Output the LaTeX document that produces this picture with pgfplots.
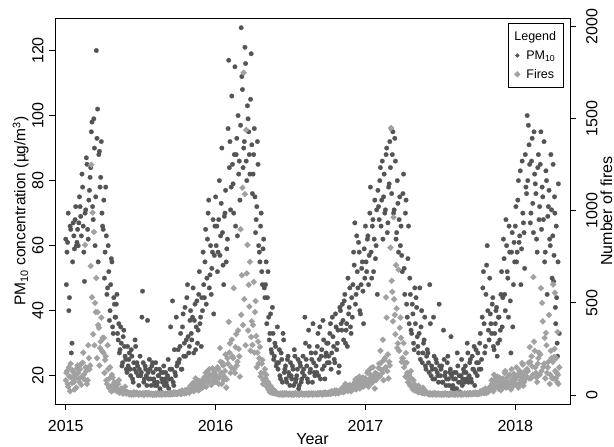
\documentclass[border=0pt]{standalone}
\usepackage{pgfplots}
\pgfplotsset{compat=1.18}
\usepackage{fontspec}
\setmainfont{Liberation Sans}
\definecolor{pmcol}{gray}{0.33}
\definecolor{firecol}{gray}{0.63}
\begin{document}
\begin{tikzpicture}
\useasboundingbox (-55bp,-43bp) rectangle (559bp,404bp);
\pgfplotsset{
 common/.style={
  at={(0,0)}, anchor=south west, scale only axis, width=515bp, height=386bp,
  xmin=-0.86, xmax=40.38,
  tick align=outside, major tick length=6bp,
  every tick/.style={black, line width=0.8bp},
  axis line style={line width=0.8bp, black},
  tick label style={font=\fontsize{16bp}{19bp}\selectfont},
  label style={font=\fontsize{16bp}{19bp}\selectfont},
  /pgf/number format/assume math mode=true,
  /pgf/number format/1000 sep={},
 }
}
\begin{axis}[common,
 ymin=11.3, ymax=130, ytick={20,40,...,120},
 xtick={0,12,24,36}, xticklabels={2015,2016,2017,2018},
 xtick pos=left, ytick pos=left,
 xticklabel style={anchor=north, inner sep=0pt, yshift=-10bp},
 yticklabel style={rotate=90, anchor=base, inner sep=0pt, yshift=5.7bp},
 xlabel={Year}, xlabel style={at={(axis description cs:0.5,-0.1062)}, anchor=base},
 ylabel={PM\textsubscript{10} concentration (µg/m\textsuperscript{3})},
 ylabel style={at={(axis description cs:-0.0573,0.5)}, anchor=base, font=\fontsize{15.5bp}{19bp}\selectfont},
]
\addplot[only marks, color=pmcol, mark=*, mark size=2.3bp, mark options={draw=pmcol, fill=pmcol, line width=0.2bp}] coordinates {
(0.05,48)(0.15,61)(0.25,40)(0.35,66)(0.45,27)(0.55,55)(0.65,63)(0.75,68)(0.85,60)(0.95,65)
(1.05,67)(1.15,72)(1.25,63)(1.35,78)(1.45,58)(1.55,70)(1.65,87)(1.75,65)(1.85,74)(1.95,81)
(2.05,95)(2.15,72)(2.25,99)(2.35,60)(2.45,120)(2.55,102)(2.65,88)(2.75,78)(2.85,92)(2.95,66)
(3.05,74)(3.15,58)(3.25,63)(3.35,47)(3.45,52)(3.55,40)(3.65,56)(3.75,35)(3.85,44)(3.95,38)
(4.05,42)(4.15,33)(4.25,36)(4.35,28)(4.45,30)(4.55,24)(4.65,34)(4.75,26)(4.85,22)(4.95,29)
(5.05,25)(5.15,22)(5.25,28)(5.35,19)(5.45,24)(5.55,31)(5.65,21)(5.75,23)(5.85,17)(5.95,26)
(6.05,21)(6.15,46)(6.25,18)(6.35,23)(6.45,20)(6.55,37)(6.65,19)(6.75,22)(6.85,17)(6.95,24)
(7.05,19)(7.15,17)(7.25,22)(7.35,18)(7.45,20)(7.55,16)(7.65,21)(7.75,18)(7.85,23)(7.95,19)
(8.05,18)(8.15,20)(8.25,16)(8.35,22)(8.45,19)(8.55,43)(8.65,17)(8.75,21)(8.85,38)(8.95,24)
(9.05,24)(9.15,29)(9.25,22)(9.35,35)(9.45,26)(9.55,41)(9.65,31)(9.75,48)(9.85,27)(9.95,37)
(10.05,33)(10.15,38)(10.25,27)(10.35,42)(10.45,35)(10.55,30)(10.65,45)(10.75,36)(10.85,29)(10.95,40)
(11.05,48)(11.15,55)(11.25,42)(11.35,62)(11.45,74)(11.55,51)(11.65,45)(11.75,58)(11.85,39)(11.95,66)
(12.05,60)(12.15,52)(12.25,68)(12.35,57)(12.45,73)(12.55,64)(12.65,48)(12.75,70)(12.85,55)(12.95,62)
(13.05,117)(13.15,92)(13.25,78)(13.35,85)(13.45,70)(13.55,115)(13.65,88)(13.75,63)(13.85,82)(13.95,74)
(14.05,127)(14.15,108)(14.25,90)(14.35,121)(14.45,86)(14.55,103)(14.65,95)(14.75,82)(14.85,119)(14.95,76)
(15.05,88)(15.15,75)(15.25,68)(15.35,92)(15.45,60)(15.55,55)(15.65,70)(15.75,48)(15.85,62)(15.95,44)
(16.05,55)(16.15,44)(16.25,38)(16.35,33)(16.45,28)(16.55,41)(16.65,25)(16.75,30)(16.85,23)(16.95,35)
(17.05,24)(17.15,20)(17.25,27)(17.35,18)(17.45,31)(17.55,22)(17.65,19)(17.75,25)(17.85,21)(17.95,17)
(18.05,20)(18.15,23)(18.25,17)(18.35,26)(18.45,19)(18.55,22)(18.65,16)(18.75,24)(18.85,18)(18.95,21)
(19.05,22)(19.15,38)(19.25,25)(19.35,19)(19.45,34)(19.55,21)(19.65,27)(19.75,18)(19.85,24)(19.95,20)
(20.05,23)(20.15,29)(20.25,20)(20.35,35)(20.45,26)(20.55,22)(20.65,31)(20.75,19)(20.85,27)(20.95,24)
(21.05,26)(21.15,33)(21.25,22)(21.35,38)(21.45,29)(21.55,24)(21.65,35)(21.75,30)(21.85,21)(21.95,41)
(22.05,36)(22.15,42)(22.25,31)(22.35,45)(22.45,34)(22.55,29)(22.65,39)(22.75,47)(22.85,33)(22.95,38)
(23.05,58)(23.15,67)(23.25,45)(23.35,52)(23.45,61)(23.55,40)(23.65,48)(23.75,55)(23.85,36)(23.95,50)
(24.05,55)(24.15,62)(24.25,48)(24.35,70)(24.45,58)(24.55,66)(24.65,52)(24.75,74)(24.85,60)(24.95,45)
(25.05,72)(25.15,80)(25.25,66)(25.35,86)(25.45,75)(25.55,70)(25.65,88)(25.75,64)(25.85,78)(25.95,92)
(26.05,96)(26.15,88)(26.25,70)(26.35,93)(26.45,62)(26.55,80)(26.65,58)(26.75,75)(26.85,66)(26.95,52)
(27.05,82)(27.15,45)(27.25,74)(27.35,38)(27.45,66)(27.55,50)(27.65,34)(27.75,42)(27.85,30)(27.95,47)
(28.05,44)(28.15,32)(28.25,27)(28.35,47)(28.45,35)(28.55,24)(28.65,30)(28.75,38)(28.85,22)(28.95,28)
(29.05,24)(29.15,48)(29.25,20)(29.35,22)(29.45,38)(29.55,19)(29.65,25)(29.75,21)(29.85,18)(29.95,23)
(30.05,22)(30.15,18)(30.25,34)(30.35,20)(30.45,17)(30.55,24)(30.65,19)(30.75,21)(30.85,32)(30.95,16)
(31.05,19)(31.15,16)(31.25,21)(31.35,27)(31.45,18)(31.55,15)(31.65,20)(31.75,17)(31.85,22)(31.95,18)
(32.05,21)(32.15,30)(32.25,18)(32.35,24)(32.45,19)(32.55,26)(32.65,22)(32.75,17)(32.85,28)(32.95,20)
(33.05,24)(33.15,30)(33.25,22)(33.35,38)(33.45,52)(33.55,27)(33.65,45)(33.75,60)(33.85,34)(33.95,50)
(34.05,36)(34.15,42)(34.25,29)(34.35,33)(34.45,40)(34.55,26)(34.65,38)(34.75,31)(34.85,45)(34.95,35)
(35.05,62)(35.15,45)(35.25,68)(35.35,52)(35.45,38)(35.55,58)(35.65,27)(35.75,64)(35.85,48)(35.95,55)
(36.05,72)(36.15,58)(36.25,80)(36.35,63)(36.45,48)(36.55,86)(36.65,67)(36.75,53)(36.85,78)(36.95,100)
(37.05,97)(37.15,85)(37.25,70)(37.35,93)(37.45,64)(37.55,82)(37.65,76)(37.75,58)(37.85,88)(37.95,72)
(38.05,95)(38.15,78)(38.25,68)(38.35,55)(38.45,83)(38.55,45)(38.65,72)(38.75,62)(38.85,88)(38.95,50)
(39.03,85)(39.10,57)(39.17,70)(39.24,36)(39.31,44)(39.38,26)(39.45,79)(39.52,33)
(0.00,62)(0.10,58)(0.20,70)(0.30,44)(0.40,65)(0.50,30)(0.60,67)(0.70,59)(0.80,72)(0.90,61)
(1.00,60)(1.10,75)(1.20,69)(1.30,82)(1.40,66)(1.50,49)(1.60,71)(1.70,85)(1.80,62)(1.90,77)
(2.00,84)(2.10,98)(2.20,68)(2.30,90)(2.40,75)(2.50,93)(2.60,55)(2.70,89)(2.80,81)(2.90,70)
(3.00,65)(3.10,50)(3.20,78)(3.30,45)(3.40,60)(3.50,37)(3.60,48)(3.70,55)(3.80,33)(3.90,42)
(4.00,38)(4.10,45)(4.20,31)(4.30,27)(4.40,35)(4.50,23)(4.60,32)(4.70,29)(4.80,25)(4.90,21)
(5.00,23)(5.10,27)(5.20,20)(5.30,26)(5.40,18)(5.50,22)(5.60,29)(5.70,24)(5.80,20)(5.90,22)
(6.00,20)(6.10,38)(6.20,24)(6.30,19)(6.40,22)(6.50,17)(6.60,21)(6.70,25)(6.80,19)(6.90,23)
(7.00,21)(7.10,18)(7.20,24)(7.30,17)(7.40,20)(7.50,22)(7.60,15)(7.70,19)(7.80,21)(7.90,17)
(8.00,21)(8.10,17)(8.20,25)(8.30,19)(8.40,35)(8.50,22)(8.60,18)(8.70,28)(8.80,20)(8.90,23)
(9.00,28)(9.10,25)(9.20,33)(9.30,22)(9.40,39)(9.50,30)(9.60,26)(9.70,44)(9.80,32)(9.90,29)
(10.00,40)(10.10,31)(10.20,47)(10.30,37)(10.40,28)(10.50,43)(10.60,34)(10.70,52)(10.80,38)(10.90,44)
(11.00,58)(11.10,44)(11.20,65)(11.30,50)(11.40,70)(11.50,47)(11.60,60)(11.70,53)(11.80,68)(11.90,57)
(12.00,75)(12.10,66)(12.20,58)(12.30,80)(12.40,63)(12.50,90)(12.60,54)(12.70,69)(12.80,77)(12.90,59)
(13.00,96)(13.10,84)(13.20,71)(13.30,106)(13.40,79)(13.50,88)(13.60,66)(13.70,93)(13.80,100)(13.90,86)
(14.00,97)(14.10,112)(14.20,84)(14.30,92)(14.40,116)(14.50,80)(14.60,99)(14.70,88)(14.80,105)(14.90,91)
(15.00,82)(15.10,96)(15.20,64)(15.30,72)(15.40,85)(15.50,58)(15.60,66)(15.70,52)(15.80,59)(15.90,47)
(16.00,48)(16.10,36)(16.20,52)(16.30,31)(16.40,39)(16.50,27)(16.60,33)(16.70,26)(16.80,29)(16.90,24)
(17.00,22)(17.10,28)(17.20,19)(17.30,25)(17.40,33)(17.50,21)(17.60,23)(17.70,18)(17.80,26)(17.90,20)
(18.00,24)(18.10,19)(18.20,22)(18.30,28)(18.40,18)(18.50,20)(18.60,25)(18.70,17)(18.80,23)(18.90,19)
(19.00,26)(19.10,20)(19.20,30)(19.30,23)(19.40,18)(19.50,29)(19.60,22)(19.70,25)(19.80,36)(19.90,21)
(20.00,27)(20.10,21)(20.20,33)(20.30,25)(20.40,19)(20.50,28)(20.60,37)(20.70,23)(20.80,26)(20.90,30)
(21.00,30)(21.10,24)(21.20,36)(21.30,27)(21.40,32)(21.50,25)(21.60,39)(21.70,28)(21.80,34)(21.90,23)
(22.00,40)(22.10,34)(22.20,37)(22.30,43)(22.40,30)(22.50,36)(22.60,50)(22.70,41)(22.80,35)(22.90,44)
(23.00,48)(23.10,54)(23.20,42)(23.30,63)(23.40,47)(23.50,58)(23.60,39)(23.70,53)(23.80,46)(23.90,59)
(24.00,66)(24.10,52)(24.20,63)(24.30,57)(24.40,78)(24.50,50)(24.60,68)(24.70,62)(24.80,56)(24.90,71)
(25.00,77)(25.10,68)(25.20,84)(25.30,74)(25.40,62)(25.50,82)(25.60,71)(25.70,90)(25.80,67)(25.90,79)
(26.00,84)(26.10,76)(26.20,95)(26.30,71)(26.40,86)(26.50,64)(26.60,73)(26.70,68)(26.80,60)(26.90,57)
(27.00,76)(27.10,53)(27.20,70)(27.30,42)(27.40,56)(27.50,36)(27.60,45)(27.70,33)(27.80,39)(27.90,28)
(28.00,36)(28.10,41)(28.20,29)(28.30,33)(28.40,25)(28.50,40)(28.60,27)(28.70,31)(28.80,23)(28.90,26)
(29.00,27)(29.10,21)(29.20,36)(29.30,23)(29.40,19)(29.50,26)(29.60,22)(29.70,24)(29.80,20)(29.90,42)
(30.00,20)(30.10,23)(30.20,18)(30.30,25)(30.40,21)(30.50,19)(30.60,26)(30.70,17)(30.80,22)(30.90,20)
(31.00,17)(31.10,21)(31.20,19)(31.30,16)(31.40,23)(31.50,20)(31.60,18)(31.70,25)(31.80,19)(31.90,21)
(32.00,23)(32.10,19)(32.20,27)(32.30,20)(32.40,25)(32.50,18)(32.60,22)(32.70,29)(32.80,21)(32.90,24)
(33.00,27)(33.10,22)(33.20,33)(33.30,25)(33.40,47)(33.50,36)(33.60,29)(33.70,54)(33.80,40)(33.90,31)
(34.00,39)(34.10,33)(34.20,44)(34.30,28)(34.40,36)(34.50,41)(34.60,30)(34.70,38)(34.80,34)(34.90,52)
(35.00,44)(35.10,56)(35.20,40)(35.30,60)(35.40,50)(35.50,66)(35.60,43)(35.70,58)(35.80,35)(35.90,61)
(36.00,66)(36.10,55)(36.20,74)(36.30,61)(36.40,83)(36.50,59)(36.60,70)(36.70,64)(36.80,88)(36.90,76)
(37.00,80)(37.10,91)(37.20,67)(37.30,86)(37.40,73)(37.50,95)(37.60,79)(37.70,62)(37.80,84)(37.90,68)
(38.00,85)(38.10,65)(38.20,75)(38.30,92)(38.40,58)(38.50,80)(38.60,69)(38.70,77)(38.80,60)(38.90,71)
(39.00,63)(39.07,49)(39.14,75)(39.21,41)(39.28,66)(39.35,30)(39.42,55)
};
\end{axis}
\begin{axis}[common,
 ymin=-49, ymax=2047, ytick={0,500,...,2000},
 axis x line=none, axis y line*=right,
 yticklabel style={rotate=90, anchor=north, inner sep=0pt, yshift=-10bp},
 ylabel={Number of fires},
 ylabel style={at={(axis description cs:1.0816,0.5)}, anchor=base},
 legend style={at={(axis description cs:0.9883,0.987)}, anchor=north east, draw=black, line width=0.8bp,
   font=\fontsize{12.5bp}{14bp}\selectfont, inner xsep=5.5bp, inner ysep=6bp, row sep=4.5bp},
 legend cell align=left,
 legend image code/.code={\path (-1.7bp,0bp) (6.7bp,0bp); \draw[#1] plot coordinates {(0bp,0bp)};},
]
\addlegendimage{empty legend}\addlegendentry{\hspace*{-12bp}Legend}
\addlegendimage{only marks, color=pmcol, mark=*, mark size=1.7bp, mark options={draw=pmcol, fill=pmcol}}\addlegendentry{PM\textsubscript{10}}
\addplot[only marks, color=firecol, mark=square*, mark size=2.1bp, mark options={rotate=45, draw=firecol, fill=firecol, line width=0.3bp}] coordinates {
(0.05,120)(0.15,60)(0.25,150)(0.35,20)(0.45,95)(0.55,135)(0.65,70)(0.75,110)(0.85,40)(0.95,160)
(1.05,90)(1.15,140)(1.25,55)(1.35,175)(1.45,110)(1.55,815)(1.65,130)(1.75,80)(1.85,200)(1.95,160)
(2.05,1250)(2.15,990)(2.25,885)(2.35,500)(2.45,635)(2.55,450)(2.65,365)(2.75,255)(2.85,420)(2.95,310)
(3.05,310)(3.15,190)(3.25,80)(3.35,270)(3.45,40)(3.55,150)(3.65,20)(3.75,95)(3.85,60)(3.95,30)
(4.05,50)(4.15,25)(4.25,80)(4.35,15)(4.45,35)(4.55,10)(4.65,20)(4.75,45)(4.85,8)(4.95,15)
(5.05,5)(5.15,12)(5.25,3)(5.35,8)(5.45,15)(5.55,4)(5.65,10)(5.75,6)(5.85,2)(5.95,9)
(6.05,4)(6.15,8)(6.25,2)(6.35,10)(6.45,6)(6.55,3)(6.65,12)(6.75,5)(6.85,7)(6.95,2)
(7.05,3)(7.15,6)(7.25,2)(7.35,9)(7.45,4)(7.55,7)(7.65,1)(7.75,5)(7.85,8)(7.95,3)
(8.05,5)(8.15,9)(8.25,3)(8.35,12)(8.45,6)(8.55,4)(8.65,15)(8.75,7)(8.85,10)(8.95,8)
(9.05,8)(9.15,15)(9.25,5)(9.35,20)(9.45,12)(9.55,25)(9.65,10)(9.75,30)(9.85,18)(9.95,22)
(10.05,30)(10.15,45)(10.25,20)(10.35,60)(10.45,35)(10.55,80)(10.65,25)(10.75,50)(10.85,70)(10.95,40)
(11.05,60)(11.15,100)(11.25,45)(11.35,130)(11.45,80)(11.55,110)(11.65,55)(11.75,145)(11.85,90)(11.95,70)
(12.05,90)(12.15,150)(12.25,60)(12.35,255)(12.45,120)(12.55,175)(12.65,80)(12.75,130)(12.85,40)(12.95,200)
(13.05,397)(13.15,280)(13.25,150)(13.35,210)(13.45,580)(13.55,120)(13.65,330)(13.75,180)(13.85,250)(13.95,100)
(14.05,435)(14.15,1125)(14.25,1750)(14.35,1090)(14.45,1440)(14.55,815)(14.65,598)(14.75,723)(14.85,315)(14.95,272)
(15.05,614)(15.15,450)(15.25,320)(15.35,230)(15.45,170)(15.55,260)(15.65,120)(15.75,190)(15.85,80)(15.95,140)
(16.05,110)(16.15,60)(16.25,30)(16.35,15)(16.45,40)(16.55,10)(16.65,20)(16.75,8)(16.85,12)(16.95,5)
(17.05,4)(17.15,7)(17.25,2)(17.35,9)(17.45,5)(17.55,3)(17.65,10)(17.75,6)(17.85,2)(17.95,8)
(18.05,3)(18.15,6)(18.25,1)(18.35,8)(18.45,4)(18.55,7)(18.65,2)(18.75,5)(18.85,9)(18.95,3)
(19.05,5)(19.15,2)(19.25,7)(19.35,4)(19.45,9)(19.55,3)(19.65,6)(19.75,2)(19.85,8)(19.95,4)
(20.05,4)(20.15,8)(20.25,3)(20.35,10)(20.45,6)(20.55,2)(20.65,12)(20.75,5)(20.85,7)(20.95,9)
(21.05,6)(21.15,12)(21.25,8)(21.35,18)(21.45,10)(21.55,25)(21.65,14)(21.75,20)(21.85,9)(21.95,22)
(22.05,20)(22.15,35)(22.25,15)(22.35,50)(22.45,25)(22.55,40)(22.65,30)(22.75,55)(22.85,20)(22.95,45)
(23.05,40)(23.15,70)(23.25,30)(23.35,90)(23.45,55)(23.55,35)(23.65,80)(23.75,60)(23.85,45)(23.95,75)
(24.05,60)(24.15,120)(24.25,45)(24.35,90)(24.45,147)(24.55,70)(24.65,100)(24.75,35)(24.85,80)(24.95,110)
(25.05,147)(25.15,100)(25.25,175)(25.35,120)(25.45,80)(25.55,200)(25.65,530)(25.75,130)(25.85,90)(25.95,160)
(26.05,1450)(26.15,560)(26.25,965)(26.35,435)(26.45,705)(26.55,255)(26.65,680)(26.75,365)(26.85,310)(26.95,200)
(27.05,282)(27.15,174)(27.25,228)(27.35,120)(27.45,90)(27.55,60)(27.65,130)(27.75,40)(27.85,80)(27.95,25)
(28.05,35)(28.15,20)(28.25,50)(28.35,15)(28.45,25)(28.55,10)(28.65,30)(28.75,8)(28.85,18)(28.95,12)
(29.05,5)(29.15,9)(29.25,3)(29.35,7)(29.45,4)(29.55,10)(29.65,2)(29.75,6)(29.85,8)(29.95,3)
(30.05,3)(30.15,6)(30.25,2)(30.35,8)(30.45,4)(30.55,5)(30.65,1)(30.75,7)(30.85,3)(30.95,6)
(31.05,4)(31.15,2)(31.25,7)(31.35,3)(31.45,9)(31.55,5)(31.65,2)(31.75,6)(31.85,4)(31.95,8)
(32.05,5)(32.15,8)(32.25,3)(32.35,10)(32.45,6)(32.55,4)(32.65,12)(32.75,7)(32.85,9)(32.95,5)
(33.05,5)(33.15,10)(33.25,8)(33.35,15)(33.45,12)(33.55,20)(33.65,10)(33.75,25)(33.85,18)(33.95,30)
(34.05,30)(34.15,60)(34.25,20)(34.35,85)(34.45,45)(34.55,100)(34.65,35)(34.75,70)(34.85,25)(34.95,55)
(35.05,70)(35.15,120)(35.25,40)(35.35,95)(35.45,60)(35.55,110)(35.65,30)(35.75,85)(35.85,50)(35.95,100)
(36.05,60)(36.15,100)(36.25,40)(36.35,130)(36.45,80)(36.55,174)(36.65,50)(36.75,110)(36.85,90)(36.95,140)
(37.05,174)(37.15,260)(37.25,90)(37.35,155)(37.45,640)(37.55,240)(37.65,120)(37.75,70)(37.85,200)(37.95,110)
(38.05,580)(38.15,500)(38.25,152)(38.35,310)(38.45,337)(38.55,120)(38.65,180)(38.75,60)(38.85,240)(38.95,90)
(39.03,600)(39.10,206)(39.17,555)(39.24,90)(39.31,120)(39.38,342)(39.45,60)(39.52,150)
(0.00,80)(0.10,130)(0.20,45)(0.30,100)(0.40,170)(0.50,65)(0.60,125)(0.70,30)(0.80,90)(0.90,145)
(1.00,120)(1.10,70)(1.20,165)(1.30,100)(1.40,230)(1.50,85)(1.60,150)(1.70,60)(1.80,270)(1.90,140)
(2.00,700)(2.10,530)(2.20,330)(2.30,270)(2.40,450)(2.50,200)(2.60,380)(2.70,160)(2.80,290)(2.90,240)
(3.00,230)(3.10,120)(3.20,210)(3.30,60)(3.40,140)(3.50,90)(3.60,45)(3.70,110)(3.80,25)(3.90,70)
(4.00,40)(4.10,20)(4.20,60)(4.30,12)(4.40,30)(4.50,18)(4.60,8)(4.70,25)(4.80,10)(4.90,14)
(5.00,8)(5.10,3)(5.20,11)(5.30,6)(5.40,2)(5.50,9)(5.60,5)(5.70,13)(5.80,4)(5.90,7)
(6.00,6)(6.10,3)(6.20,9)(6.30,2)(6.40,7)(6.50,11)(6.60,4)(6.70,8)(6.80,3)(6.90,5)
(7.00,5)(7.10,2)(7.20,8)(7.30,4)(7.40,6)(7.50,3)(7.60,9)(7.70,2)(7.80,6)(7.90,4)
(8.00,7)(8.10,4)(8.20,10)(8.30,6)(8.40,3)(8.50,11)(8.60,8)(8.70,5)(8.80,13)(8.90,6)
(9.00,10)(9.10,18)(9.20,7)(9.30,24)(9.40,14)(9.50,9)(9.60,20)(9.70,16)(9.80,28)(9.90,12)
(10.00,50)(10.10,25)(10.20,65)(10.30,40)(10.40,90)(10.50,30)(10.60,55)(10.70,75)(10.80,35)(10.90,60)
(11.00,85)(11.10,50)(11.20,120)(11.30,70)(11.40,95)(11.50,140)(11.60,65)(11.70,105)(11.80,75)(11.90,125)
(12.00,110)(12.10,70)(12.20,140)(12.30,95)(12.40,180)(12.50,60)(12.60,160)(12.70,100)(12.80,220)(12.90,85)
(13.00,170)(13.10,230)(13.20,120)(13.30,300)(13.40,200)(13.50,140)(13.60,260)(13.70,160)(13.80,350)(13.90,210)
(14.00,900)(14.10,650)(14.20,380)(14.30,520)(14.40,270)(14.50,660)(14.60,350)(14.70,480)(14.80,240)(14.90,400)
(15.00,380)(15.10,230)(15.20,510)(15.30,150)(15.40,290)(15.50,200)(15.60,100)(15.70,170)(15.80,60)(15.90,120)
(16.00,90)(16.10,45)(16.20,70)(16.30,25)(16.40,50)(16.50,15)(16.60,30)(16.70,12)(16.80,20)(16.90,9)
(17.00,6)(17.10,3)(17.20,8)(17.30,5)(17.40,2)(17.50,9)(17.60,4)(17.70,7)(17.80,3)(17.90,6)
(18.00,5)(18.10,2)(18.20,7)(18.30,4)(18.40,9)(18.50,3)(18.60,6)(18.70,2)(18.80,5)(18.90,8)
(19.00,3)(19.10,6)(19.20,4)(19.30,8)(19.40,2)(19.50,7)(19.60,5)(19.70,9)(19.80,3)(19.90,6)
(20.00,7)(20.10,3)(20.20,9)(20.30,5)(20.40,11)(20.50,4)(20.60,8)(20.70,6)(20.80,13)(20.90,5)
(21.00,9)(21.10,15)(21.20,6)(21.30,20)(21.40,12)(21.50,16)(21.60,8)(21.70,24)(21.80,11)(21.90,18)
(22.00,28)(22.10,18)(22.20,42)(22.30,25)(22.40,60)(22.50,32)(22.60,22)(22.70,48)(22.80,36)(22.90,26)
(23.00,55)(23.10,35)(23.20,85)(23.30,50)(23.40,65)(23.50,100)(23.60,45)(23.70,70)(23.80,95)(23.90,60)
(24.00,90)(24.10,55)(24.20,130)(24.30,75)(24.40,110)(24.50,65)(24.60,150)(24.70,85)(24.80,120)(24.90,95)
(25.00,110)(25.10,170)(25.20,240)(25.30,135)(25.40,300)(25.50,190)(25.60,150)(25.70,420)(25.80,220)(25.90,180)
(26.00,800)(26.10,620)(26.20,400)(26.30,520)(26.40,330)(26.50,470)(26.60,280)(26.70,240)(26.80,420)(26.90,180)
(27.00,200)(27.10,150)(27.20,100)(27.30,175)(27.40,70)(27.50,110)(27.60,50)(27.70,90)(27.80,30)(27.90,60)
(28.00,25)(28.10,45)(28.20,15)(28.30,30)(28.40,20)(28.50,12)(28.60,40)(28.70,9)(28.80,22)(28.90,14)
(29.00,6)(29.10,3)(29.20,8)(29.30,5)(29.40,2)(29.50,9)(29.60,4)(29.70,7)(29.80,3)(29.90,6)
(30.00,5)(30.10,2)(30.20,7)(30.30,4)(30.40,9)(30.50,3)(30.60,6)(30.70,2)(30.80,5)(30.90,8)
(31.00,3)(31.10,6)(31.20,4)(31.30,8)(31.40,2)(31.50,7)(31.60,5)(31.70,9)(31.80,3)(31.90,6)
(32.00,7)(32.10,3)(32.20,9)(32.30,5)(32.40,11)(32.50,4)(32.60,8)(32.70,6)(32.80,13)(32.90,5)
(33.00,12)(33.10,8)(33.20,20)(33.30,14)(33.40,25)(33.50,10)(33.60,35)(33.70,22)(33.80,15)(33.90,40)
(34.00,45)(34.10,80)(34.20,30)(34.30,110)(34.40,55)(34.50,75)(34.60,40)(34.70,95)(34.80,60)(34.90,35)
(35.00,90)(35.10,55)(35.20,130)(35.30,75)(35.40,45)(35.50,105)(35.60,65)(35.70,140)(35.80,80)(35.90,115)
(36.00,80)(36.10,150)(36.20,110)(36.30,60)(36.40,120)(36.50,95)(36.60,165)(36.70,70)(36.80,130)(36.90,100)
(37.00,130)(37.10,90)(37.20,180)(37.30,210)(37.40,110)(37.50,290)(37.60,150)(37.70,95)(37.80,170)(37.90,230)
(38.00,220)(38.10,130)(38.20,400)(38.30,170)(38.40,90)(38.50,270)(38.60,150)(38.70,435)(38.80,110)(38.90,200)
(39.00,180)(39.07,90)(39.14,250)(39.21,130)(39.28,200)(39.35,70)(39.42,110)
};
\addlegendentry{Fires}
\end{axis}
\end{tikzpicture}
\end{document}
